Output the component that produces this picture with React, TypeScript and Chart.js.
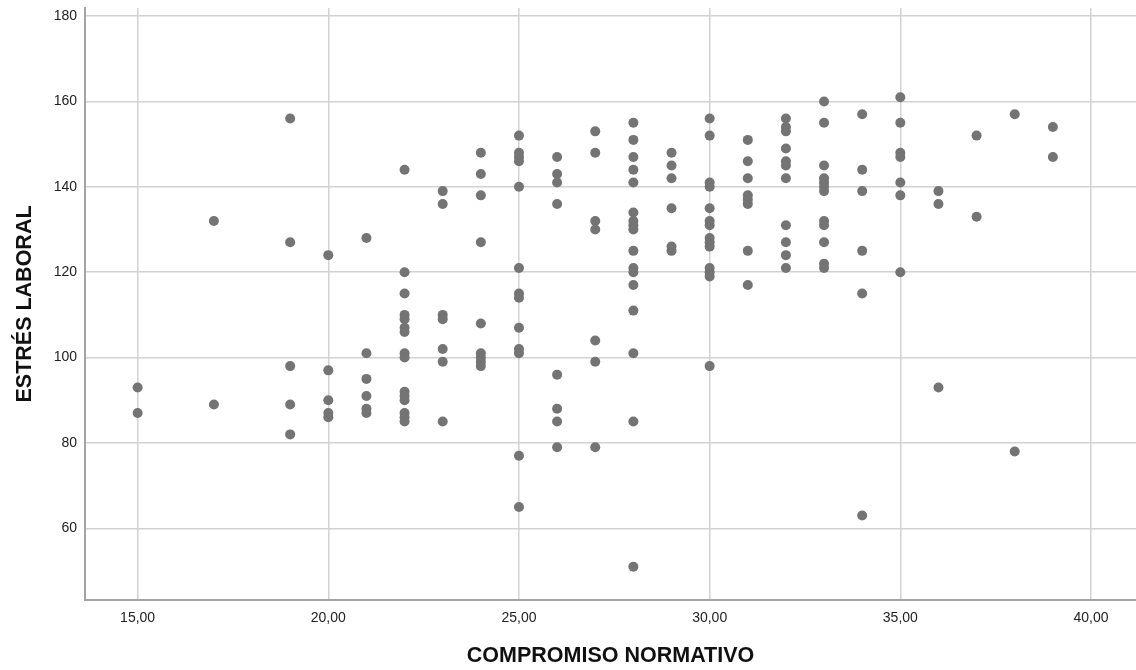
import React, { useEffect, useRef } from "react";
import { Chart, registerables } from "chart.js";

Chart.register(...registerables);

// Compromiso normativo levels (x) and the Estrés laboral scores (y) observed at each level
const compromisoLevels: number[] = [15, 17, 19, 20, 21, 22, 23, 24, 25, 26, 27, 28, 29, 30, 31, 32, 33, 34, 35, 36, 37, 38, 39];

const estres15: number[] = [93, 87];
const estres17: number[] = [132, 89];
const estres19: number[] = [156, 127, 98, 89, 82];
const estres20: number[] = [124, 97, 90, 87, 86];
const estres21: number[] = [128, 101, 95, 91, 88, 87];
const estres22: number[] = [144, 120, 115, 110, 109, 107, 106, 101, 100, 92, 91, 90, 87, 86, 85];
const estres23: number[] = [139, 136, 110, 109, 102, 99, 85];
const estres24: number[] = [148, 143, 138, 127, 108, 101, 100, 99, 98];
const estres25: number[] = [152, 148, 147, 146, 140, 121, 115, 114, 107, 102, 101, 77, 65];
const estres26: number[] = [147, 143, 141, 136, 96, 88, 85, 79];
const estres27: number[] = [153, 148, 132, 130, 104, 99, 79];
const estres28: number[] = [155, 151, 147, 144, 141, 134, 132, 131, 130, 125, 121, 120, 117, 111, 101, 85, 51];
const estres29: number[] = [148, 145, 142, 135, 126, 125];
const estres30: number[] = [156, 152, 141, 140, 135, 132, 131, 128, 127, 126, 121, 120, 119, 98];
const estres31: number[] = [151, 146, 142, 138, 137, 136, 125, 117];
const estres32: number[] = [156, 154, 153, 149, 146, 145, 142, 131, 127, 124, 121];
const estres33: number[] = [160, 155, 145, 142, 141, 140, 139, 132, 131, 127, 122, 121];
const estres34: number[] = [157, 144, 139, 125, 115, 63];
const estres35: number[] = [161, 155, 148, 147, 141, 138, 120];
const estres36: number[] = [139, 136, 93];
const estres37: number[] = [152, 133];
const estres38: number[] = [157, 78];
const estres39: number[] = [154, 147];

const estresByLevel: number[][] = [
  estres15, estres17, estres19, estres20, estres21, estres22, estres23, estres24,
  estres25, estres26, estres27, estres28, estres29, estres30, estres31, estres32,
  estres33, estres34, estres35, estres36, estres37, estres38, estres39,
];

const xTitle = "COMPROMISO NORMATIVO";
const yTitle = "ESTRÉS LABORAL";

const FONT = "'Liberation Sans', Arial, sans-serif";

export default function App() {
  const canvasRef = useRef<HTMLCanvasElement | null>(null);

  useEffect(() => {
    const canvas = canvasRef.current;
    if (!canvas) return;

    const points: { x: number; y: number }[] = [];
    compromisoLevels.forEach((lvl, i) => {
      estresByLevel[i].forEach((v) => points.push({ x: lvl, y: v }));
    });

    const chart = new Chart(canvas, {
      type: "scatter",
      data: {
        datasets: [
          {
            data: points,
            backgroundColor: "#747474",
            borderColor: "#747474",
            borderWidth: 0,
            pointRadius: 5,
            pointHoverRadius: 5,
          },
        ],
      },
      options: {
        responsive: false,
        animation: false,
        devicePixelRatio: 1,
        layout: { autoPadding: false, padding: { top: 8, right: 0, left: 0, bottom: 0 } },
        plugins: {
          legend: { display: false },
          tooltip: { enabled: false },
        },
        scales: {
          x: {
            type: "linear",
            min: 13.62,
            max: 41.18,
            afterFit: (scale: any) => {
              scale.height = 70;
              scale.paddingLeft = 0;
              scale.paddingRight = 0;
            },
            grid: {
              color: "#d2d2d2",
              lineWidth: 1.5,
              drawTicks: false,
            },
            border: { display: true, color: "#a3a3a3", width: 2 },
            ticks: {
              stepSize: 5,
              includeBounds: false,
              padding: 10,
              color: "#222222",
              font: { family: FONT, size: 14 },
              maxRotation: 0,
              callback: (v: any) => Number(v).toFixed(2).replace(".", ","),
            },
            title: {
              display: true,
              text: xTitle,
              color: "#111111",
              font: { family: FONT, size: 21.5, weight: "bold" },
              padding: { top: 0, bottom: 1.5 },
            },
          },
          y: {
            type: "linear",
            min: 43.2,
            max: 181.9,
            afterFit: (scale: any) => {
              scale.width = 85;
              scale.paddingTop = 0;
              scale.paddingBottom = 0;
            },
            grid: {
              color: "#d2d2d2",
              lineWidth: 1.5,
              drawTicks: false,
            },
            border: { display: true, color: "#a3a3a3", width: 2 },
            ticks: {
              stepSize: 20,
              includeBounds: false,
              padding: 8,
              color: "#222222",
              font: { family: FONT, size: 14 },
            },
            title: {
              display: true,
              text: yTitle,
              color: "#111111",
              font: { family: FONT, size: 21.5, weight: "bold" },
              padding: { top: 11.7, bottom: 0 },
            },
          },
        },
      },
    });

    return () => chart.destroy();
  }, []);

  return (
    <div style={{ position: "fixed", left: 0, top: 0, width: 1136, height: 670, background: "#ffffff" }}>
      <canvas ref={canvasRef} width={1136} height={670} style={{ width: 1136, height: 670, display: "block" }} />
    </div>
  );
}
